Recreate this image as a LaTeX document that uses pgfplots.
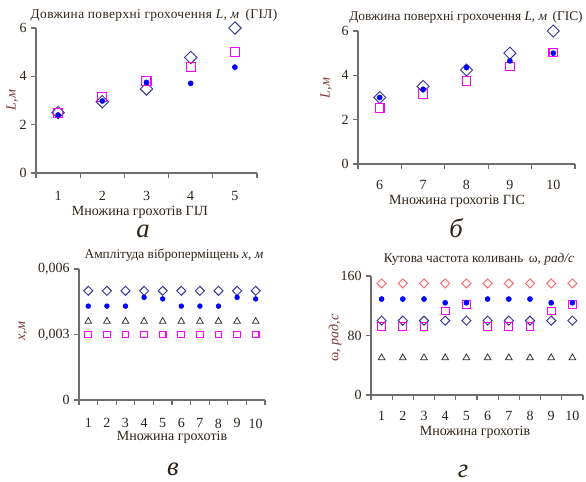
\documentclass[border=0pt]{standalone}
\usepackage{pgfplots}
\pgfplotsset{compat=1.18}
\usepackage{fontspec}
\setmainfont{Liberation Serif}
\definecolor{txt}{RGB}{45,35,25}
\definecolor{ylab}{RGB}{125,55,50}
\definecolor{axc}{RGB}{110,110,110}
\definecolor{navy}{RGB}{51,51,153}
\definecolor{mag}{RGB}{255,0,255}
\definecolor{blu}{RGB}{0,0,255}
\definecolor{sal}{RGB}{255,102,102}
\newcommand{\fs}{\fontsize{10.5}{12}\selectfont}
\newcommand{\ft}{\fontsize{10}{12}\selectfont}
\pgfplotsset{
  panel/.style={scale only axis, anchor=south west,
    axis x line*=bottom, axis y line*=left,
    axis line style={axc, line width=0.8pt, -},
    tick style={axc, line width=0.8pt},
    tick align=outside, major tick length=3.5pt,
    /pgf/number format/assume math mode=true,
    scaled y ticks=false,
    tick label style={font=\fs, text=txt},
    xticklabel style={yshift=-7pt, xshift=#1},
    clip=false},
  dia/.style={only marks, mark=square, mark size=#1, draw=navy, fill=white, line width=0.7pt, mark options={rotate=45}},
  sdia/.style={only marks, mark=square, mark size=#1, draw=sal, fill=white, line width=0.7pt, mark options={rotate=45}},
  sq/.style={only marks, mark=square, mark size=#1, draw=mag, fill=white, line width=0.8pt},
  cir/.style={only marks, mark=*, mark size=#1, draw=blu, fill=blu},
  tri/.style={only marks, mark=triangle, mark size=#1, draw=black!80, fill=white, line width=0.6pt},
}
\begin{document}
\begin{tikzpicture}
\useasboundingbox (0,0) rectangle (439.5pt,361.5pt);
% panel a
\begin{axis}[panel=16.575pt, at={(27pt,231.75pt)}, width=165.75pt, height=108.75pt,
  xmin=0.5, xmax=5.5, ymin=0, ymax=6, ytick={0,2,4,6},
  xtick={0.5,1.5,...,5.5}, xticklabels={1,2,3,4,5,{}}]
\addplot[dia=3.3pt] coordinates {(1,2.5)(2,2.95)(3,3.48)(4,4.78)(5,6.0)};
\addplot[sq=3.4pt] coordinates {(1,2.5)(2,3.15)(3,3.8)(4,4.38)(5,5.0)};
\addplot[cir=1.9pt] coordinates {(1,2.4)(2,2.98)(3,3.75)(4,3.71)(5,4.38)};
\end{axis}
% panel b
\begin{axis}[panel=16.275pt, at={(268.5pt,238.5pt)}, width=162.75pt, height=99.75pt,
  xticklabel style={yshift=2pt},
  xmin=5.5, xmax=10.5, ymin=0, ymax=6, ytick={0,2,4,6},
  xtick={5.5,6.5,...,10.5}, xticklabels={6,7,8,9,10,{}}]
\addplot[dia=3.2pt] coordinates {(6,3.0)(7,3.5)(8,4.24)(9,5.0)(10,6.0)};
\addplot[sq=3.2pt] coordinates {(6,2.52)(7,3.15)(8,3.75)(9,4.39)(10,5.03)};
\addplot[cir=1.9pt] coordinates {(6,3.0)(7,3.37)(8,4.35)(9,4.65)(10,5.0)};
\end{axis}
% panel c
\begin{axis}[panel=6.975pt, at={(59.25pt,61.5pt)}, width=139.5pt, height=98.25pt,
  xmin=0.5, xmax=10.5, ymin=0, ymax=0.006, ytick={0,0.003,0.006},
  yticklabels={0,{0,003},{0,006}},
  xtick={0.5,1.5,...,10.5}, xticklabels={1,2,3,4,5,6,7,8,9,10,{}}]
\addplot[dia=2.4pt] coordinates {(1,0.005)(2,0.005)(3,0.005)(4,0.005)(5,0.005)(6,0.005)(7,0.005)(8,0.005)(9,0.005)(10,0.005)};
\addplot[cir=1.8pt] coordinates {(1,0.0043)(2,0.0043)(3,0.0043)(4,0.0047)(5,0.00463)(6,0.0043)(7,0.0043)(8,0.0043)(9,0.0047)(10,0.00463)};
\addplot[tri=2.9pt] coordinates {(1,0.0036)(2,0.0036)(3,0.0036)(4,0.0036)(5,0.0036)(6,0.0036)(7,0.0036)(8,0.0036)(9,0.0036)(10,0.0036)};
\addplot[sq=2.5pt] coordinates {(1,0.003)(2,0.003)(3,0.003)(4,0.003)(5,0.003)(6,0.003)(7,0.003)(8,0.003)(9,0.003)(10,0.003)};
\end{axis}
% panel d
\begin{axis}[panel=7.95pt, at={(278.25pt,65.25pt)}, width=159pt, height=89.25pt,
  xticklabel style={yshift=2pt},
  xmin=0.5, xmax=10.5, ymin=0, ymax=160, ytick={0,80,160},
  xtick={0.5,1.5,...,10.5}, xticklabels={1,2,3,4,5,6,7,8,9,10,{}}]
\addplot[sdia=2.4pt] coordinates {(1,150)(2,150)(3,150)(4,150)(5,150)(6,150)(7,150)(8,150)(9,150)(10,150)};
\addplot[dia=2.4pt] coordinates {(1,100)(2,100)(3,100)(4,100)(5,100)(6,100)(7,100)(8,100)(9,100)(10,100)};
\addplot[sq=2.9pt] coordinates {(1,92)(2,92)(3,92)(4,113)(5,122)(6,92)(7,92)(8,92)(9,113)(10,122)};
\addplot[cir=1.9pt] coordinates {(1,129)(2,129)(3,129)(4,124)(5,124)(6,129)(7,129)(8,129)(9,124)(10,124)};
\addplot[tri=2.9pt] coordinates {(1,50)(2,50)(3,50)(4,50)(5,50)(6,50)(7,50)(8,50)(9,50)(10,50)};
\end{axis}
% titles
\begin{scope}[every node/.style={font=\ft, text=txt, inner sep=0pt}]
\node at (115.5pt,350.25pt) {\addfontfeature{LetterSpace=3}Довжина поверхні грохочення \textit{L, м}\, (ГІЛ)};
\node at (349.5pt,348.75pt) {Довжина поверхні грохочення \textit{L, м}\, (ГІС)};
\node at (130.5pt,170.25pt) {Амплітуда віброперміщень \textit{x, м}};
\node at (359.25pt,167.25pt) {Кутова частота коливань\, ω, \textit{рад/с}};
\end{scope}
\begin{scope}[every node/.style={font=\fs, text=txt, inner sep=0pt}]
\node at (105pt,202.5pt) {Множина грохотів ГІЛ};
\node at (342.75pt,210.75pt) {Множина грохотів ГІС};
\node at (129pt,33.75pt) {Множина грохотів};
\node at (356.25pt,37.5pt) {Множина грохотів};
\end{scope}
\begin{scope}[every node/.style={font=\fs, text=ylab, inner sep=0pt, rotate=90}]
\node at (9pt,286.5pt) {\textit{L,м}};
\node at (244.5pt,295.5pt) {\textit{L,м}};
\node at (17.25pt,113.25pt) {\textit{x,м}};
\node at (251.25pt,108pt) {ω\textit{, рад,с}};
\end{scope}
\begin{scope}[every node/.style={font=\fontsize{20}{22}\selectfont\itshape, text=txt, inner sep=0pt}]
\node at (107.25pt,188.25pt) {а};
\node at (342pt,190.5pt) {б};
\node at (129.75pt,9.75pt) {в};
\node at (347.25pt,8.25pt) {г};
\end{scope}
\end{tikzpicture}
\end{document}
